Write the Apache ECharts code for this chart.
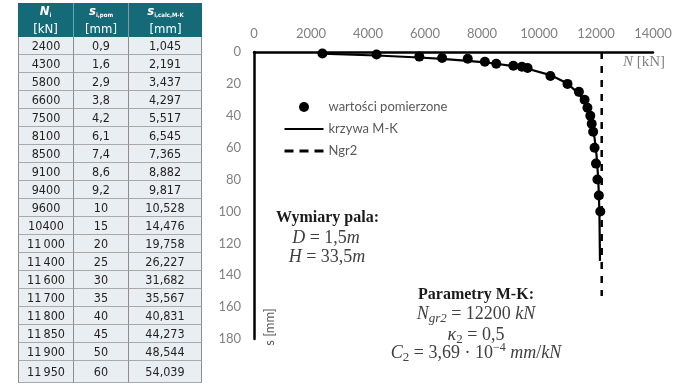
<!DOCTYPE html>
<html><head><meta charset="utf-8">
<script src="https://cdn.jsdelivr.net/npm/echarts@6/dist/echarts.min.js"></script>
<style>
html,body{margin:0;padding:0;background:#fff;width:695px;height:391px;overflow:hidden;}
#chart{position:absolute;left:0;top:0;width:695px;height:391px;}
#tbl{position:absolute;left:0;top:0;width:210px;height:391px;font-family:"Liberation Sans Narrow","DejaVu Sans Condensed","Roboto",sans-serif;font-stretch:condensed;}
.c{position:absolute;box-sizing:border-box;display:flex;align-items:center;justify-content:center;text-align:center;}
.h{background:#146a77;color:#fff;font-size:13px;line-height:14px;flex-direction:column;border-right:1px solid #6fa3ab;}
.b{background:#e8eef1;color:#231f20;font-size:12.5px;border-right:1px solid #8d8d8d;border-bottom:1px solid #a9a9a9;}
sub{font-size:6px;vertical-align:-2px;}
</style></head><body>
<div id="chart"></div>
<div id="tbl"></div>
<script>
// ---- data ----
const tableLoadLabels = ['2400','4300','5800','6600','7500','8100','8500','9100','9400','9600','10400','11\u2009000','11\u2009400','11\u2009600','11\u2009700','11\u2009800','11\u2009850','11\u2009900','11\u2009950'];
const loadsN = [2400,4300,5800,6600,7500,8100,8500,9100,9400,9600,10400,11000,11400,11600,11700,11800,11850,11900,11950];
const sMeasured = [0.9,1.6,2.9,3.8,4.2,6.1,7.4,8.6,9.2,10,15,20,25,30,35,40,45,50,60];
const sCalcMK = [1.045,2.191,3.437,4.297,5.517,6.545,7.365,8.882,9.817,10.528,14.476,19.758,26.227,31.682,35.567,40.831,44.273,48.544,54.039];
const extraMeasuredN = [12000,12050,12100,12150];
const extraMeasuredS = [70,80,90,100];
const curveTailN = [12020,12080,12120,12140];
const curveTailS = [65,80,100,131];
const ngr2N = [12200,12200];
const ngr2S = [0,153];
const seriesNames = ['wartości pomierzone','krzywa M-K','Ngr2'];

// ---- table ----
const fmt = v => String(v).replace('.', ',');
const tbl = document.getElementById('tbl');
const colX = [18,74,129,202];
const headTop = 3, headBottom = 37, rowH = 18, lastRowH = 22;
const headers = [
  '<div><b><i>N</i><sub>i</sub></b></div><div>[kN]</div>',
  '<div><b><i>s</i><sub>i,pom</sub></b></div><div>[mm]</div>',
  '<div><b><i>s</i><sub>i,calc,M-K</sub></b></div><div>[mm]</div>'
];
let html = '';
for (let c = 0; c < 3; c++) {
  html += `<div class="c h" style="left:${colX[c]}px;top:${headTop}px;width:${colX[c+1]-colX[c]}px;height:${headBottom-headTop}px;${c===2?'border-right:none;':''}">${headers[c]}</div>`;
}
const rows = tableLoadLabels.map((l, i) => [l, fmt(sMeasured[i]), fmt(sCalcMK[i])]);
rows.forEach((r, i) => {
  const top = headBottom + i * rowH;
  const h = i === rows.length - 1 ? lastRowH : rowH;
  for (let c = 0; c < 3; c++) {
    html += `<div class="c b" style="left:${colX[c]}px;top:${top}px;width:${colX[c+1]-colX[c]}px;height:${h}px;${c===0?'border-left:1px solid #8d8d8d;':''}">${r[c]}</div>`;
  }
});
tbl.innerHTML = html;

// ---- chart ----
const measured = loadsN.map((n, i) => [n, sMeasured[i]]).concat(extraMeasuredN.map((n, i) => [n, extraMeasuredS[i]]));
const curve = loadsN.map((n, i) => [n, sCalcMK[i]]).concat(curveTailN.map((n, i) => [n, curveTailS[i]]));
const ngr2 = ngr2N.map((n, i) => [n, ngr2S[i]]);

const chart = echarts.init(document.getElementById('chart'), null, {renderer: 'canvas'});
const serif = '"Liberation Serif","DejaVu Serif",serif';
const gray = '#808080';
const mathFs = 18;
const it = {fontStyle: 'italic', fontSize: mathFs, fontFamily: serif, fill: '#404040'};
const sub = {fontSize: 13, fontFamily: serif, fill: '#404040', verticalAlign: 'bottom', lineHeight: 14};
const subI = Object.assign({}, sub, {fontStyle: 'italic'});
const sup = {fontSize: 12, fontFamily: serif, fill: '#404040', verticalAlign: 'top', lineHeight: 12};
chart.setOption({
  animation: false,
  grid: {left: 254, top: 52, width: 399, height: 287},
  xAxis: {
    type: 'value', position: 'top', min: 0, max: 14000, interval: 2000,
    axisLine: {show: true, onZero: false, lineStyle: {color: '#000', width: 2.5}},
    axisTick: {show: false}, splitLine: {show: false},
    axisLabel: {color: gray, fontFamily: 'Lato', fontSize: 13, margin: 12, formatter: v => String(v)}
  },
  yAxis: {
    type: 'value', inverse: true, min: 0, max: 180, interval: 20,
    axisLine: {show: true, onZero: false, lineStyle: {color: '#000', width: 2.5}},
    axisTick: {show: false}, splitLine: {show: false},
    axisLabel: {color: gray, fontFamily: 'Lato', fontSize: 13, margin: 13, formatter: v => String(v)}
  },
  legend: {
    orient: 'vertical', left: 283, top: 100, padding: 0, itemWidth: 39, itemHeight: 10, itemGap: 8,
    textStyle: {color: '#595959', fontFamily: 'Lato', fontSize: 13, lineHeight: 14},
    data: [
      {name: seriesNames[0], icon: 'circle'},
      {name: seriesNames[1], itemStyle: {opacity: 0}},
      {name: seriesNames[2], itemStyle: {opacity: 0}, lineStyle: {type: [9, 6], width: 3}}
    ]
  },
  series: [
    {name: seriesNames[1], type: 'line', data: curve, symbol: 'none', lineStyle: {color: '#000', width: 2.2}, itemStyle: {color: '#000'}, z: 2},
    {name: seriesNames[2], type: 'line', data: ngr2, symbol: 'none', lineStyle: {color: '#000', width: 2.5, type: [7, 7]}, itemStyle: {color: '#000'}, z: 1},
    {name: seriesNames[0], type: 'scatter', data: measured, symbolSize: 10, itemStyle: {color: '#000', opacity: 1}, z: 3}
  ],
  graphic: [
    {type: 'text', style: {text: '{i|N} [kN]', x: 623, y: 62, verticalAlign: 'middle', fill: gray, font: '15px ' + serif,
      rich: {i: {fontStyle: 'italic', fontSize: 15, fontFamily: serif, fill: gray}}}},
    {type: 'text', rotation: Math.PI / 2, x: 270, y: 327, style: {text: 's [mm]', x: 0, y: 0, align: 'center', verticalAlign: 'middle', fill: '#595959', font: '13px Lato'}},
    {type: 'text', style: {text: 'Wymiary pala:', x: 276, y: 218, verticalAlign: 'middle', fill: '#1a1a1a', font: 'bold 16px ' + serif}},
    {type: 'text', style: {text: '{i|D} = 1,5{i|m}', x: 326, y: 238, align: 'center', verticalAlign: 'middle', fill: '#404040', font: mathFs + 'px ' + serif,
      rich: {i: it}}},
    {type: 'text', style: {text: '{i|H} = 33,5{i|m}', x: 327, y: 257, align: 'center', verticalAlign: 'middle', fill: '#404040', font: mathFs + 'px ' + serif,
      rich: {i: it}}},
    {type: 'text', style: {text: 'Parametry M-K:', x: 476, y: 295, align: 'center', verticalAlign: 'middle', fill: '#1a1a1a', font: 'bold 16px ' + serif}},
    {type: 'text', style: {text: '{i|N}{subI|gr2} = 12200 {i|kN}', x: 476, y: 314, align: 'center', verticalAlign: 'middle', fill: '#404040', font: mathFs + 'px ' + serif, lineHeight: 22,
      rich: {i: it, subI: subI}}},
    {type: 'text', style: {text: '{i|κ}{sub|2} = 0,5', x: 476, y: 335, align: 'center', verticalAlign: 'middle', fill: '#404040', font: mathFs + 'px ' + serif, lineHeight: 22,
      rich: {i: it, sub: sub}}},
    {type: 'text', style: {text: '{i|C}{sub|2} = 3,69 · 10{sup|−4} {i|mm}/{i|kN}', x: 476, y: 353, align: 'center', verticalAlign: 'middle', fill: '#404040', font: mathFs + 'px ' + serif, lineHeight: 22,
      rich: {i: it, sub: sub, sup: sup}}}
  ]
});
</script>
</body></html>
